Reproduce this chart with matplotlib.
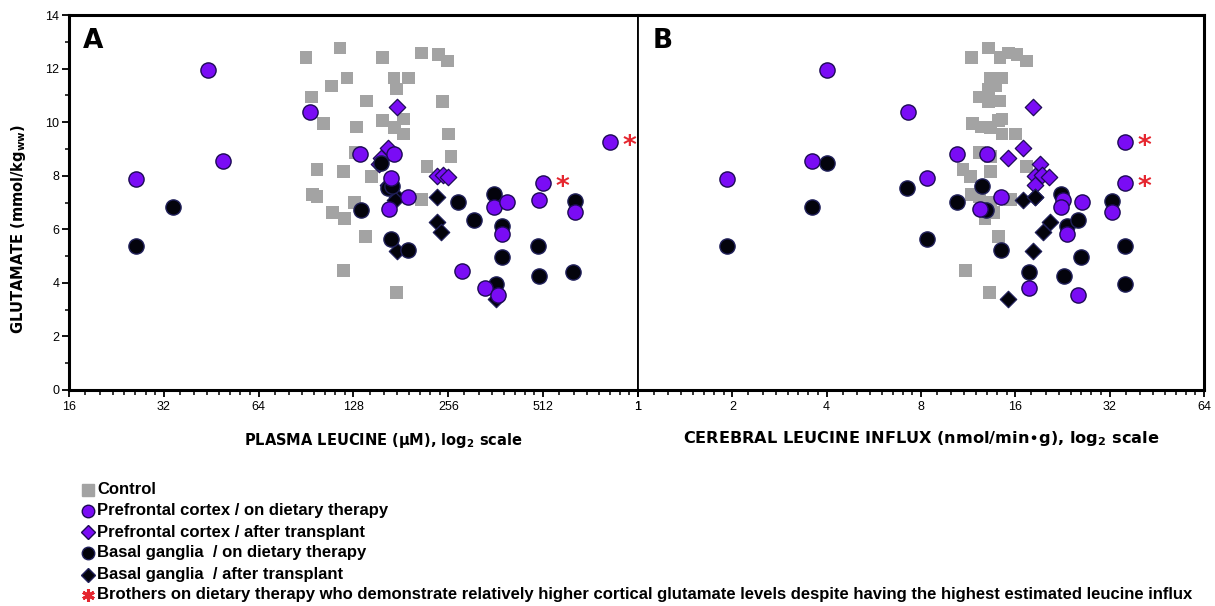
import matplotlib
matplotlib.use("Agg")
import matplotlib.pyplot as plt
import numpy as np
from matplotlib.lines import Line2D
from matplotlib.ticker import FixedLocator, LogLocator, NullFormatter

nan = np.nan

# glutamate (mmol/kg ww) with plasma leucine (uM, panel A) and cerebral influx (nmol/min*g, panel B)
ctrl_plasma = [90.5, 116, 158, 211, 238, 255, 122, 109, 172, 191, 175, 94, 141, 246, 103, 131, 158, 184,
               173, 184, 257, 130, 261, 98, 119, 146, 219, 95, 98, 129, 110, 120, 211, 140, 119, 175]
ctrl_influx = [11.6, 13.1, 14.3, 15.2, 16.2, 17.4, 14.1, 13.8, 14.5, 13.3, 13.1, 12.3, 14.3, 13.1, 11.7, 12.5, 14.1, 14.5,
               13.3, 16.0, 14.5, 12.3, 13.3, 10.9, 13.3, 11.5, 17.4, 11.6, 12.3, 13.3, 13.6, 12.8, 15.4, 14.1, 11.1, 13.2]
ctrl_glu = [12.4, 12.77, 12.4, 12.58, 12.54, 12.28, 11.65, 11.35, 11.65, 11.65, 11.24, 10.94, 10.79, 10.76, 9.94, 9.82, 10.05, 10.12,
            9.79, 9.56, 9.56, 8.86, 8.71, 8.22, 8.15, 7.96, 8.33, 7.29, 7.22, 7.0, 6.62, 6.4, 7.1, 5.73, 4.46, 3.64]

pfc_diet_plasma = [44.2, 93.2, 49.3, 26.1, 168.5, 134, 172, 191, 166, 283, 835, 512, 498, 358, 393, 647, 379, 335, 368]
pfc_diet_influx = [4.01, 7.28, 3.59, 1.92, 8.37, 10.4, 13.0, 14.4, 12.35, nan, 35.9, 35.9, 22.7, 22.4, 26.1, 32.6, 23.4, 17.7, 25.4]
pfc_diet_glu = [11.95, 10.38, 8.56, 7.89, 7.92, 8.82, 8.82, 7.22, 6.77, 4.46, 9.27, 7.74, 7.1, 6.84, 7.03, 6.66, 5.84, 3.79, 3.53]
brothers = [10, 11]

pfc_tx_plasma = [176, 165, 157, 154, 236, 246, 255, 165]
pfc_tx_influx = [18.2, 16.9, 15.2, 19.2, 18.5, 19.5, 20.5, 18.5]
pfc_tx_glu = [10.57, 9.04, 8.67, 8.45, 7.99, 8.04, 7.96, 7.67]

bg_diet_plasma = [26.1, 34.2, 157, 165, 168.5, 275, 170, 358, 135, 191, 637, 379, 309, 379, 498, 647, 494, 363]
bg_diet_influx = [1.92, 3.59, 4.01, 7.22, 8.37, 10.4, 12.5, 22.4, 12.9, 14.4, 17.7, 23.4, 25.4, 26.0, 22.9, 32.6, 35.9, 35.9]
bg_diet_glu = [5.39, 6.84, 8.49, 7.55, 5.65, 7.03, 7.63, 7.33, 6.73, 5.24, 4.42, 6.14, 6.36, 4.98, 4.24, 7.07, 5.39, 3.94]

bg_tx_plasma = [176, 173, 236, 236, 243, 176, 364]
bg_tx_influx = [18.5, 16.9, 18.5, 20.7, 19.6, 18.2, 15.2]
bg_tx_glu = [7.2, 7.1, 7.2, 6.29, 5.9, 5.2, 3.39]

x_major_A = [16, 32, 64, 128, 256, 512, 1024]
x_labels_A = ['16', '32', '64', '128', '256', '512', '1']
x_major_B = [1, 2, 4, 8, 16, 32, 64]
x_labels_B = ['1', '2', '4', '8', '16', '32', '64']

legend_labels = ['Control',
                 'Prefrontal cortex / on dietary therapy',
                 'Prefrontal cortex / after transplant',
                 'Basal ganglia  / on dietary therapy',
                 'Basal ganglia  / after transplant',
                 'Brothers on dietary therapy who demonstrate relatively higher cortical glutamate levels despite having the highest estimated leucine influx']

purple = '#7a0cf5'
purple_edge = '#1c0a55'
black = '#03030c'
black_edge = '#20205a'
gray = '#a3a3a3'
red = '#e5262f'
narrow = ['Liberation Sans', 'DejaVu Sans']

fig = plt.figure(figsize=(12.15, 6.06), dpi=100)
axA = fig.add_axes([69 / 1215, 1 - 390 / 606, 569 / 1215, 375 / 606])
axB = fig.add_axes([638 / 1215, 1 - 390 / 606, 566 / 1215, 375 / 606])


def draw_panel(ax, cx, px, ptx, bx, btx, major, labels):
    ax.set_xscale('log', base=2)
    ax.scatter(cx, ctrl_glu, marker='s', s=85, color=gray, edgecolors='none', zorder=2)
    ax.scatter(ptx, pfc_tx_glu, marker='D', s=70, color=purple, edgecolors=purple_edge, linewidths=0.9, zorder=3)
    ax.scatter(btx, bg_tx_glu, marker='D', s=70, color=black, edgecolors=black_edge, linewidths=0.9, zorder=3)
    ax.scatter(bx, bg_diet_glu, marker='o', s=120, color=black, edgecolors=black_edge, linewidths=1.0, zorder=4)
    ax.scatter(px, pfc_diet_glu, marker='o', s=120, color=purple, edgecolors=purple_edge, linewidths=1.0, zorder=5)
    for i in brothers:
        ax.annotate('*', (px[i], pfc_diet_glu[i]), xytext=(9, -9), textcoords='offset points',
                    color=red, fontsize=19, fontweight='bold', zorder=6)
    ax.set_xlim(major[0], major[-1])
    ax.set_ylim(0, 14)
    ax.xaxis.set_major_locator(FixedLocator(major))
    ax.set_xticklabels(labels, family=narrow, fontsize=9)
    ax.xaxis.set_minor_locator(LogLocator(base=2, subs=np.arange(9, 16) / 8))
    ax.xaxis.set_minor_formatter(NullFormatter())
    ax.tick_params(axis='x', which='major', direction='out', length=5, width=1.3, pad=3)
    ax.tick_params(axis='x', which='minor', direction='out', length=3.5, width=1.1)
    for s in ax.spines.values():
        s.set_linewidth(2.2)


draw_panel(axA, ctrl_plasma, pfc_diet_plasma, pfc_tx_plasma, bg_diet_plasma, bg_tx_plasma, x_major_A, x_labels_A)
draw_panel(axB, ctrl_influx, pfc_diet_influx, pfc_tx_influx, bg_diet_influx, bg_tx_influx, x_major_B, x_labels_B)

axA.set_yticks(range(0, 15, 2))
axA.set_yticks(range(0, 15), minor=True)
axA.set_yticklabels([str(v) for v in range(0, 15, 2)], family=narrow, fontsize=9)
axA.tick_params(axis='y', which='major', direction='out', length=5, width=1.3, pad=2)
axA.tick_params(axis='y', which='minor', direction='out', length=3, width=1.1)
axA.spines['right'].set_linewidth(1.3)
axB.spines['left'].set_linewidth(1.3)
axB.set_yticks([])
axB.tick_params(axis='y', left=False)

axA.set_ylabel(r'GLUTAMATE (mmol/kg$_{\mathbf{ww}}$)', fontsize=10.5, fontweight='bold')
axA.yaxis.set_label_coords(-0.072, 0.43)
axA.set_xlabel(r'PLASMA LEUCINE ($\mathbf{\mu}$M), log$_{\mathbf{2}}$ scale', fontsize=10.5, fontweight='bold')
axA.xaxis.set_label_coords(0.552, -0.108)
axB.set_xlabel(r'CEREBRAL LEUCINE INFLUX (nmol/min$\bullet$g), log$_{\mathbf{2}}$ scale', fontsize=11.6,
               fontweight='bold')
axB.xaxis.set_label_coords(0.5, -0.105)

axA.text(0.025, 0.93, 'A', transform=axA.transAxes, fontsize=19, fontweight='bold', va='center')
axB.text(0.025, 0.93, 'B', transform=axB.transAxes, fontsize=19, fontweight='bold', va='center')

# legend below the panels
leg_handles = [dict(marker='s', color=gray, mec=gray, ms=8),
               dict(marker='o', color=purple, mec=purple_edge, ms=9),
               dict(marker='D', color=purple, mec=purple_edge, ms=7),
               dict(marker='o', color=black, mec=black_edge, ms=9),
               dict(marker='D', color=black, mec=black_edge, ms=7),
               dict(marker=(6, 2, 0), color=red, mec=red, ms=9, mew=2.2)]
row_y = [490, 511, 532, 553, 575, 595]
for k, lab in enumerate(legend_labels):
    y = 1 - row_y[k] / 606
    fig.add_artist(Line2D([88 / 1215], [y], transform=fig.transFigure, linestyle='none', **leg_handles[k]))
    fig.text(97 / 1215, y, lab, family=narrow, fontsize=12, fontweight='bold', va='center')

fig.savefig('out.png', dpi=100)
